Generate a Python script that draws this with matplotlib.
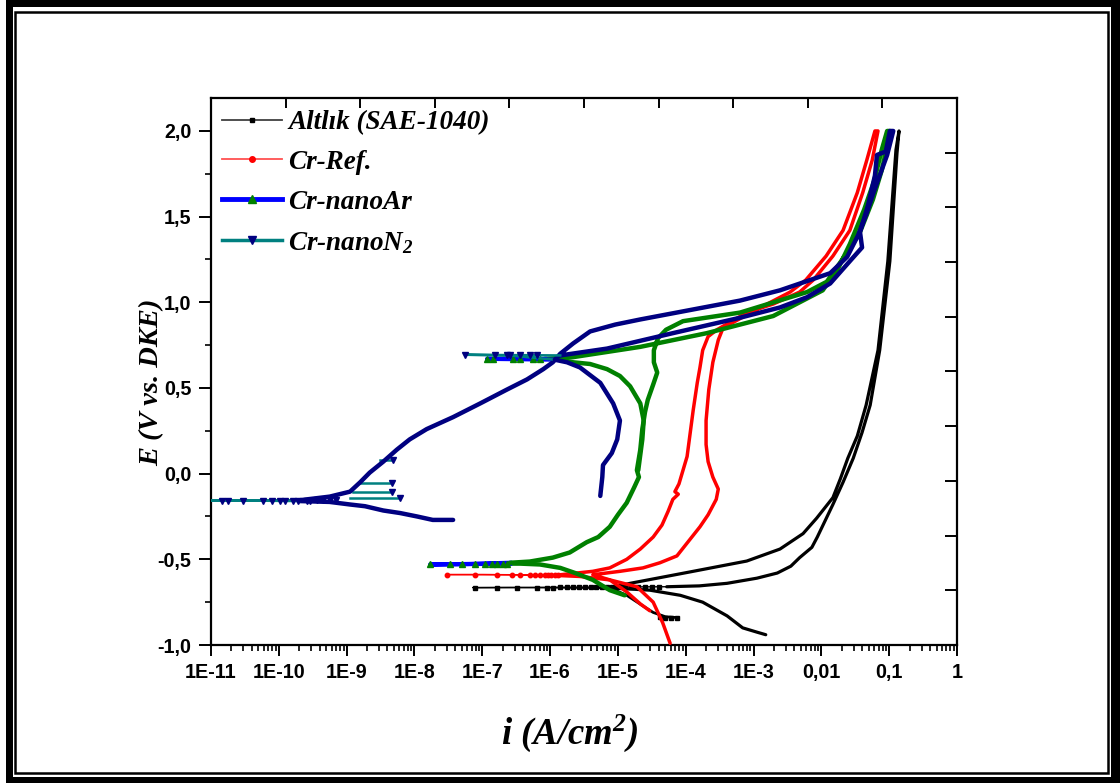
import numpy as np
import matplotlib
matplotlib.use("Agg")
import matplotlib.pyplot as plt
from matplotlib.patches import Rectangle
from matplotlib.lines import Line2D
from matplotlib.ticker import FixedLocator, FuncFormatter, NullFormatter

plt.rcParams['mathtext.fontset'] = 'custom'
plt.rcParams['mathtext.rm'] = 'Liberation Serif:italic:bold'
plt.rcParams['mathtext.it'] = 'Liberation Serif:italic:bold'
plt.rcParams['mathtext.bf'] = 'Liberation Serif:italic:bold'

# ---------------- data: log10(i / A cm^-2) and E (V vs. DKE) ----------------
# Altlık (SAE-1040)
blk_cath_logi = [-2.82, -2.95, -3.16, -3.39, -3.75, -4.08, -4.53, -4.97]
blk_cath_E = [-0.94, -0.925, -0.90, -0.83, -0.75, -0.71, -0.68, -0.67]
blk_flat_logi = [-4.97, -5.5, -6.1, -6.6, -7.14, -6.6, -6.0, -5.4, -4.8, -4.28]
blk_flat_E = [-0.67, -0.668, -0.666, -0.665, -0.665, -0.664, -0.663, -0.662, -0.661, -0.66]
blk_mark_logi = [-7.11, -6.78, -6.49, -6.19, -6.05, -5.96, -5.85, -5.75, -5.66, -5.57,
                 -5.48, -5.40, -5.32, -5.24, -5.16, -5.08, -5.00, -4.90, -4.80, -4.70,
                 -4.60, -4.50, -4.40]
blk_mark_E = [-0.665, -0.665, -0.665, -0.665, -0.665, -0.665, -0.664, -0.664, -0.664, -0.664,
              -0.663, -0.663, -0.663, -0.663, -0.662, -0.662, -0.662, -0.662, -0.661, -0.661,
              -0.661, -0.661, -0.660]
blk_anod_logi = [-4.28, -3.80, -3.39, -2.95, -2.65, -2.45, -2.32, -2.14, -2.06, -1.83,
                 -1.68, -1.53, -1.40, -1.28, -1.14, -0.99, -0.885, -0.855, -0.90, -1.02,
                 -1.165, -1.34, -1.47, -1.61, -1.72, -1.83, -2.07, -2.27, -2.61, -3.10,
                 -3.89, -4.82, -5.10]
blk_anod_E = [-0.66, -0.655, -0.64, -0.61, -0.58, -0.54, -0.49, -0.43, -0.37, -0.18,
              -0.05, 0.09, 0.24, 0.40, 0.72, 1.24, 1.87, 2.0, 1.89, 1.24,
              0.72, 0.40, 0.22, 0.09, -0.03, -0.14, -0.26, -0.35, -0.44, -0.51,
              -0.57, -0.64, -0.665]
blk_tail_logi = [-5.10, -4.87, -4.60, -4.48, -4.30, -4.13]
blk_tail_E = [-0.67, -0.71, -0.78, -0.81, -0.835, -0.84]
blk_tail_mark_logi = [-4.38, -4.30, -4.22, -4.13]
blk_tail_mark_E = [-0.838, -0.84, -0.84, -0.84]

# Cr-Ref.
red_cath_logi = [-4.23, -4.34, -4.48, -4.72, -5.12, -5.56, -5.85]
red_cath_E = [-0.99, -0.87, -0.75, -0.66, -0.62, -0.60, -0.595]
red_flat_logi = [-5.85, -6.5, -7.0, -7.52, -7.0, -6.4, -5.85]
red_flat_E = [-0.595, -0.59, -0.589, -0.589, -0.589, -0.59, -0.59]
red_mark_logi = [-7.52, -7.11, -6.78, -6.56, -6.44, -6.30, -6.22, -6.15, -6.08, -6.03,
                 -5.98, -5.93, -5.88]
red_mark_E = [-0.589, -0.589, -0.589, -0.589, -0.589, -0.59, -0.59, -0.59, -0.59, -0.59,
              -0.591, -0.592, -0.593]
red_anod_logi = [-5.85, -5.37, -5.12, -4.87, -4.67, -4.48, -4.35, -4.26, -4.19, -4.11,
                 -4.16, -4.10, -3.98, -3.89, -3.83, -3.79, -3.75, -3.67, -3.54, -3.10,
                 -2.71, -2.32, -2.12, -1.83, -1.58, -1.39, -1.25, -1.165, -1.21, -1.33,
                 -1.47, -1.68, -1.93, -2.23, -2.46, -2.80, -3.13, -3.45, -3.52, -3.60,
                 -3.66, -3.70, -3.70, -3.67, -3.60, -3.52, -3.55, -3.67, -3.79, -3.94,
                 -4.13, -4.38, -4.63, -4.97, -5.37, -5.12, -4.87, -4.67, -4.53]
red_anod_E = [-0.59, -0.57, -0.55, -0.50, -0.44, -0.37, -0.30, -0.22, -0.15, -0.12,
              -0.105, -0.06, 0.10, 0.37, 0.53, 0.62, 0.72, 0.80, 0.84, 0.94,
              0.99, 1.06, 1.13, 1.27, 1.42, 1.64, 1.83, 2.0, 2.0, 1.83,
              1.64, 1.42, 1.27, 1.13, 1.06, 0.99, 0.92, 0.85, 0.78, 0.65,
              0.49, 0.31, 0.17, 0.07, -0.02, -0.09, -0.15, -0.24, -0.31, -0.385,
              -0.48, -0.52, -0.55, -0.57, -0.59, -0.62, -0.69, -0.76, -0.80]

# Cr-nanoAr
grn_cath_logi = [-4.90, -5.12, -5.37, -5.63, -5.85, -6.15, -6.44, -6.59]
grn_cath_E = [-0.71, -0.68, -0.62, -0.58, -0.55, -0.53, -0.525, -0.525]
grn_flat1_logi = [-6.59, -7.2, -7.77, -7.2, -6.59]
grn_flat1_E = [-0.525, -0.528, -0.53, -0.527, -0.52]
grn_mark1_logi = [-7.77, -7.48, -7.30, -7.11, -6.96, -6.86, -6.78, -6.69, -6.64]
grn_mark1_E = [-0.53, -0.53, -0.53, -0.529, -0.529, -0.528, -0.528, -0.527, -0.527]
grn_anod_logi = [-6.59, -6.30, -5.96, -5.71, -5.46, -5.29, -5.12, -5.00, -4.87, -4.76,
                 -4.69, -4.72, -4.67, -4.64, -4.60, -4.56, -4.48, -4.42, -4.47, -4.47,
                 -4.41, -4.29, -4.04, -3.20, -2.21, -1.92, -1.62, -1.43, -1.24, -1.11,
                 -1.03, -0.99, -1.03, -1.11, -1.22, -1.37, -1.58, -1.75, -1.98, -2.71,
                 -3.69, -4.67, -5.66, -6.08]
grn_anod_E = [-0.52, -0.513, -0.49, -0.46, -0.40, -0.37, -0.31, -0.24, -0.17, -0.08,
              -0.02, 0.02, 0.14, 0.26, 0.36, 0.43, 0.52, 0.59, 0.65, 0.72,
              0.79, 0.84, 0.89, 0.94, 1.06, 1.12, 1.29, 1.41, 1.60, 1.77,
              1.91, 2.0, 2.0, 1.89, 1.71, 1.54, 1.34, 1.20, 1.07, 0.92,
              0.82, 0.74, 0.68, 0.67]
grn_flat2_logi = [-6.08, -6.5, -6.93, -6.5, -5.85]
grn_flat2_E = [0.67, 0.67, 0.67, 0.668, 0.665]
grn_mark2_logi = [-6.93, -6.84, -6.55, -6.44, -6.25, -6.15]
grn_mark2_E = [0.67, 0.67, 0.67, 0.67, 0.669, 0.668]
grn_rev_logi = [-5.85, -5.66, -5.41, -5.16, -4.97, -4.82, -4.67, -4.62, -4.64, -4.70]
grn_rev_E = [0.665, 0.65, 0.64, 0.61, 0.57, 0.51, 0.41, 0.31, 0.20, 0.02]

# Cr-nanoN2
n2_cath_logi = [-7.43, -7.73, -7.96, -8.21, -8.46, -8.73, -8.95, -9.25, -9.69]
n2_cath_E = [-0.27, -0.27, -0.25, -0.23, -0.215, -0.19, -0.18, -0.165, -0.16]
n2_flat1_logi = [-9.69, -10.5, -11.5, -10.5, -9.69]
n2_flat1_E = [-0.16, -0.157, -0.157, -0.157, -0.155]
n2_mark1_logi = [-10.84, -10.75, -10.53, -10.23, -10.10, -9.98, -9.91, -9.79, -9.72, -9.58,
                 -9.54, -9.44, -9.35, -9.25, -9.15]
n2_mark1_E = [-0.157, -0.157, -0.157, -0.157, -0.157, -0.157, -0.157, -0.157, -0.157, -0.157,
              -0.157, -0.156, -0.156, -0.156, -0.155]
n2_anod_logi = [-9.69, -9.25, -8.95, -8.80, -8.66, -8.46, -8.26, -8.07, -7.82, -7.43,
                -7.03, -6.64, -6.34, -6.10, -5.96, -5.85, -5.66, -5.41, -5.04, -4.67,
                -3.20, -2.61, -1.87, -1.62, -1.46, -1.34, -1.24, -1.14, -1.03, -0.94,
                -0.99, -1.05, -1.18, -1.21, -1.31, -1.43, -1.40, -1.58, -1.87, -2.21,
                -2.61, -3.20, -4.19, -5.16, -5.85]
n2_anod_E = [-0.155, -0.134, -0.105, -0.05, 0.006, 0.07, 0.14, 0.20, 0.26, 0.33,
             0.41, 0.49, 0.55, 0.61, 0.65, 0.70, 0.76, 0.83, 0.87, 0.90,
             1.01, 1.07, 1.17, 1.265, 1.39, 1.51, 1.63, 1.74, 1.86, 2.0,
             2.0, 1.88, 1.86, 1.74, 1.57, 1.41, 1.32, 1.24, 1.11, 1.03,
             0.97, 0.91, 0.82, 0.73, 0.69]
n2_flat2_logi = [-5.85, -6.6, -7.25, -6.6, -5.93]
n2_flat2_E = [0.69, 0.692, 0.694, 0.69, 0.665]
n2_mark2_logi = [-7.25, -6.81, -6.64, -6.59, -6.44, -6.30, -6.20]
n2_mark2_E = [0.694, 0.693, 0.692, 0.692, 0.691, 0.69, 0.69]
n2_rev_logi = [-5.93, -5.75, -5.56, -5.26, -5.07, -4.97, -5.01, -5.09, -5.22, -5.23, -5.26]
n2_rev_E = [0.665, 0.65, 0.62, 0.53, 0.41, 0.31, 0.20, 0.12, 0.05, -0.02, -0.13]
# current excursions near the first corrosion potential: (E, log i from, log i to)
n2_spike_E = [-0.054, -0.109, -0.142, 0.078]
n2_spike_from = [-8.80, -8.91, -8.95, -8.51]
n2_spike_to = [-8.33, -8.33, -8.21, -8.32]

labels = ['Altlık (SAE-1040)', 'Cr-Ref.', 'Cr-nanoAr', 'Cr-nanoN$_2$']
x_tick_labels = ['1E-11', '1E-10', '1E-9', '1E-8', '1E-7', '1E-6', '1E-5', '1E-4',
                 '1E-3', '0,01', '0,1', '1']

# ---------------- figure ----------------
W, H = 1120, 783
fig = plt.figure(figsize=(W / 100, H / 100), dpi=100)


def px_rect(x0, y0, x1, y1, **kw):
    """Rectangle given in output pixels, y measured from the top."""
    r = Rectangle((x0, H - y1), x1 - x0, y1 - y0, transform=None, **kw)
    fig.add_artist(r)


# double frame round the whole picture
px_rect(6, 0, 1120, 783, facecolor='black', edgecolor='none', zorder=0)
px_rect(13, 7, 1111, 777, facecolor='white', edgecolor='none', zorder=0)
px_rect(15, 12, 1108, 773, facecolor='none', edgecolor='black', linewidth=1.8, zorder=0)

L, R, T, B = 211, 957, 98, 645
ax = fig.add_axes([L / W, 1 - B / H, (R - L) / W, (B - T) / H])
ax.set_xscale('log')
ax.set_xlim(1e-11, 1)
ax.set_ylim(-1.0, 2.0 + 33 / 171.5)


def cur(v):
    return 10.0 ** np.asarray(v)


# Altlık
kw = dict(solid_joinstyle='round', solid_capstyle='round')
ax.plot(cur(blk_cath_logi), blk_cath_E, color='black', lw=2.3, zorder=2, **kw)
ax.plot(cur(blk_flat_logi), blk_flat_E, color='black', lw=1.0, zorder=2)
ax.plot(cur(blk_mark_logi), blk_mark_E, ls='none', marker='s', ms=2.6, color='black', zorder=2)
ax.plot(cur(blk_anod_logi), blk_anod_E, color='black', lw=2.3, zorder=2, **kw)
ax.plot(cur(blk_tail_logi), blk_tail_E, color='black', lw=2.0, zorder=2, **kw)
ax.plot(cur(blk_tail_mark_logi), blk_tail_mark_E, ls='none', marker='s', ms=2.4, color='black', zorder=2)

# Cr-Ref.
ax.plot(cur(red_cath_logi), red_cath_E, color='red', lw=2.5, zorder=3, **kw)
ax.plot(cur(red_flat_logi), red_flat_E, color='red', lw=1.0, zorder=3)
ax.plot(cur(red_mark_logi), red_mark_E, ls='none', marker='o', ms=3.2, color='red', zorder=3)
ax.plot(cur(red_anod_logi), red_anod_E, color='red', lw=2.5, zorder=3, **kw)

# Cr-nanoAr (dense green symbols over a blue line)
ax.plot(cur(grn_cath_logi), grn_cath_E, color='green', lw=3.2, zorder=4, **kw)
ax.plot(cur(grn_flat1_logi), grn_flat1_E, color='blue', lw=3.0, zorder=4)
ax.plot(cur(grn_mark1_logi), grn_mark1_E, ls='none', marker='^', ms=5, color='green', zorder=4)
ax.plot(cur(grn_anod_logi), grn_anod_E, color='green', lw=3.2, zorder=4, **kw)
ax.plot(cur(grn_flat2_logi), grn_flat2_E, color='blue', lw=3.0, zorder=4)
ax.plot(cur(grn_mark2_logi), grn_mark2_E, ls='none', marker='^', ms=5, color='green', zorder=4)
ax.plot(cur(grn_rev_logi), grn_rev_E, color='green', lw=3.2, zorder=4, **kw)

# Cr-nanoN2 (dense navy symbols over a teal line)
navy, teal = '#000080', '#008080'
ax.plot(cur(n2_cath_logi), n2_cath_E, color=navy, lw=3.2, zorder=5, **kw)
ax.plot(cur(n2_flat1_logi), n2_flat1_E, color=teal, lw=1.8, zorder=5)
ax.plot(cur(n2_mark1_logi), n2_mark1_E, ls='none', marker='v', ms=5, color=navy, zorder=5)
for e, a, b in zip(n2_spike_E, n2_spike_from, n2_spike_to):
    ax.plot(cur([a, b]), [e, e], color=teal, lw=1.8, zorder=5)
    ax.plot(cur([b]), [e], ls='none', marker='v', ms=5, color=navy, zorder=5)
ax.plot(cur(n2_anod_logi), n2_anod_E, color=navy, lw=3.2, zorder=5, **kw)
ax.plot(cur(n2_flat2_logi), n2_flat2_E, color=teal, lw=1.8, zorder=5)
ax.plot(cur(n2_mark2_logi), n2_mark2_E, ls='none', marker='v', ms=5, color=navy, zorder=5)
ax.plot(cur(n2_rev_logi), n2_rev_E, color=navy, lw=3.2, zorder=5, **kw)

# axes styling
for s in ax.spines.values():
    s.set_linewidth(1.6)

ax.xaxis.set_major_locator(FixedLocator([10.0 ** k for k in range(-11, 1)]))
ax.xaxis.set_minor_locator(FixedLocator([m * 10.0 ** k for k in range(-11, 0) for m in range(2, 10)]))
ax.xaxis.set_major_formatter(FuncFormatter(lambda v, p: x_tick_labels[int(round(np.log10(v))) + 11]))
ax.xaxis.set_minor_formatter(NullFormatter())
ax.yaxis.set_major_locator(FixedLocator([-1.0, -0.5, 0.0, 0.5, 1.0, 1.5, 2.0]))
ax.yaxis.set_minor_locator(FixedLocator([-0.75, -0.25, 0.25, 0.75, 1.25, 1.75]))
ax.yaxis.set_major_formatter(FuncFormatter(lambda v, p: f"{v:.1f}".replace('.', ',').replace('-0,0', '0,0')))
ax.tick_params(which='major', direction='out', length=8, width=1.4, top=False, right=False)
ax.tick_params(which='minor', direction='out', length=4.5, width=1.2, top=False, right=False)
ax.tick_params(axis='y', which='major', length=9)
ax.tick_params(axis='both', which='major', labelsize=14.2, pad=5)
for lab in ax.get_xticklabels() + ax.get_yticklabels():
    lab.set_fontfamily('Liberation Sans')
    lab.set_fontweight('bold')

# top and right axes carry their own evenly spaced ticks
ax2 = fig.add_axes(ax.get_position(), frameon=False)
ax2.set_xlim(0, 1)
ax2.set_ylim(0, 1)
ax2.patch.set_visible(False)
ax2.xaxis.tick_top()
ax2.yaxis.tick_right()
ax2.set_xticks(np.arange(1, 10) / 10)
ax2.set_yticks(np.arange(1, 10) / 10)
ax2.tick_params(direction='in', length=7, width=1.4, labeltop=False, labelright=False)
ax2.tick_params(axis='y', length=9)

# axis titles
ax.set_xlabel('i (A/cm$^2$)', fontsize=26.5, fontfamily='Liberation Serif',
              fontweight='bold', fontstyle='italic')
ax.xaxis.set_label_coords((570 - L) / (R - L), -(713 - B) / (B - T))
ax.set_ylabel('E (V vs. DKE)', fontsize=20.5, fontfamily='Liberation Serif',
              fontweight='bold', fontstyle='italic')
ax.yaxis.set_label_coords(-(L - 164) / (R - L), (B - 382) / (B - T))

# legend
handles = [
    Line2D([], [], color='#404040', lw=1.3, marker='s', ms=3.5, mfc='black', mec='black'),
    Line2D([], [], color='#ff5050', lw=1.3, marker='o', ms=4, mfc='red', mec='red'),
    Line2D([], [], color='blue', lw=3.5, marker='^', ms=6, mfc='green', mec='green'),
    Line2D([], [], color=teal, lw=2.5, marker='v', ms=6, mfc=navy, mec=navy),
]
leg_size = 19.5
leg = ax.legend(handles, labels, loc='upper left',
                bbox_to_anchor=((222 - L) / (R - L), 1 - 12 / (B - T)),
                frameon=False, handlelength=60 / (leg_size * 100 / 72),
                handletextpad=6 / (leg_size * 100 / 72),
                labelspacing=0.55, borderaxespad=0.0, borderpad=0.0,
                prop={'family': 'Liberation Serif', 'weight': 'bold',
                      'style': 'italic', 'size': leg_size})

fig.savefig('out.png', dpi=100)
